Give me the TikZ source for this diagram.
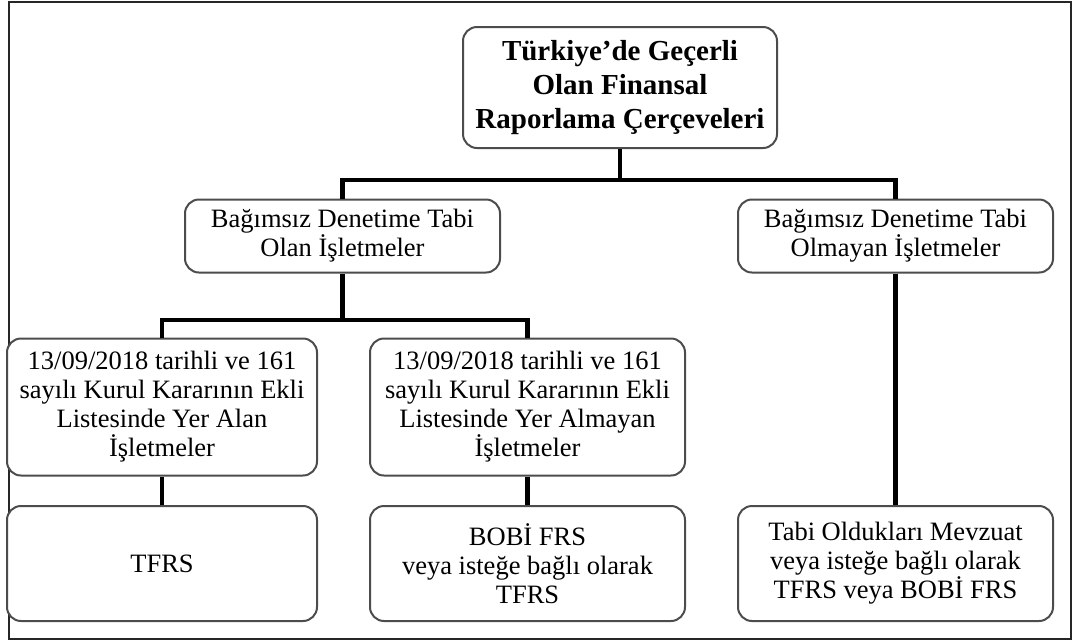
\documentclass[tikz,border=0pt]{standalone}
\usepackage{fontspec}
\setmainfont{Liberation Serif}
\begin{document}
\begin{tikzpicture}[x=1pt,y=-1pt,
  box/.style={draw=black!70, line width=2pt, rounded corners=14pt, fill=white,
    align=center, inner sep=0pt, font=\fontsize{26.5}{29}\selectfont},
  topbox/.style={box, font=\fontsize{29}{34}\selectfont\bfseries},
  conn/.style={draw=black, line width=4.5pt, line join=miter}]
\useasboundingbox (0,0) rectangle (1074,641);
\draw[line width=2.5pt, black!85] (9,2) rectangle (1071,639);

\node[topbox, minimum width=314pt, minimum height=121pt] (top) at (620,87.5)
  {Türkiye’de Geçerli\\Olan Finansal\\Raporlama Çerçeveleri};

\node[box, minimum width=315pt, minimum height=73pt] (b1) at (342.5,236)
  {Bağımsız Denetime Tabi\\Olan İşletmeler};
\node[box, minimum width=315pt, minimum height=73pt] (b2) at (895.5,236)
  {Bağımsız Denetime Tabi\\Olmayan İşletmeler};

\node[box, minimum width=310pt, minimum height=137pt] (c1) at (162,407)
  {13/09/2018 tarihli ve 161\\sayılı Kurul Kararının Ekli\\Listesinde Yer Alan\\İşletmeler};
\node[box, minimum width=315pt, minimum height=137pt] (c2) at (527.5,407)
  {13/09/2018 tarihli ve 161\\sayılı Kurul Kararının Ekli\\Listesinde Yer Almayan\\İşletmeler};

\node[box, minimum width=310pt, minimum height=115pt] (d1) at (162,563.5)
  {TFRS};
\node[box, minimum width=315pt, minimum height=115pt] (d2) at (527.5,563.5)
  {BOBİ FRS\\veya isteğe bağlı olarak\\TFRS};
\node[box, minimum width=315pt, minimum height=115pt] (d3) at (895.5,563.5)
  {Tabi Oldukları Mevzuat\\veya isteğe bağlı olarak\\TFRS veya BOBİ FRS};

\path (top.south) ++(0,31) coordinate (j1);
\path (b1.south) ++(0,46.5) coordinate (j2);
\draw[conn] (top.south) -- (j1);
\draw[conn] (b1.north) |- (j1) -| (b2.north);
\draw[conn] (b1.south) -- (j2);
\draw[conn] (c1.north) |- (j2) -| (c2.north);
\draw[conn] (c1.south) -- (d1.north);
\draw[conn] (c2.south) -- (d2.north);
\draw[conn] (b2.south) -- (d3.north);
\end{tikzpicture}
\end{document}
